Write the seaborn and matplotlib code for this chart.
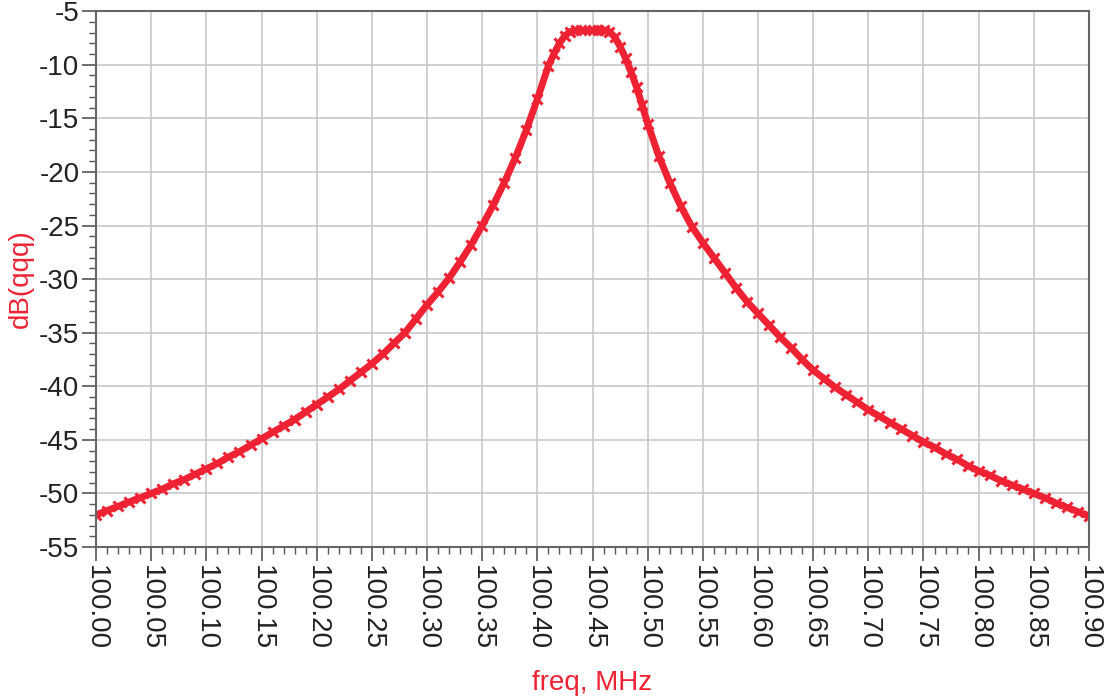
import numpy as np
import pandas as pd
import matplotlib
matplotlib.use("Agg")
import matplotlib.pyplot as plt
from matplotlib.ticker import MultipleLocator, FormatStrFormatter
import seaborn as sns

# frequency points (MHz) and response (dB)
freq = [100.00, 100.01, 100.02, 100.03, 100.04, 100.05, 100.06, 100.07, 100.08, 100.09,
        100.10, 100.11, 100.12, 100.13, 100.14, 100.15, 100.16, 100.17, 100.18, 100.19,
        100.20, 100.21, 100.22, 100.23, 100.24, 100.25, 100.26, 100.27, 100.28, 100.29,
        100.30, 100.31, 100.32, 100.33, 100.34, 100.35, 100.36, 100.37, 100.38, 100.39,
        100.40, 100.41, 100.415, 100.42, 100.425, 100.43, 100.435, 100.44, 100.45, 100.455,
        100.46, 100.465, 100.47, 100.475, 100.48, 100.485, 100.49, 100.495, 100.50, 100.51,
        100.52, 100.53, 100.54, 100.55, 100.56, 100.57, 100.58, 100.59, 100.60, 100.61,
        100.62, 100.63, 100.64, 100.65, 100.66, 100.67, 100.68, 100.69, 100.70, 100.71,
        100.72, 100.73, 100.74, 100.75, 100.76, 100.77, 100.78, 100.79, 100.80, 100.81,
        100.82, 100.83, 100.84, 100.85, 100.86, 100.87, 100.88, 100.89, 100.90]
db = [-52.0, -51.6, -51.2, -50.8, -50.4, -50.0, -49.6, -49.1, -48.7, -48.2,
      -47.7, -47.2, -46.6, -46.1, -45.5, -44.9, -44.3, -43.7, -43.1, -42.4,
      -41.7, -41.0, -40.3, -39.5, -38.7, -37.9, -37.0, -36.0, -35.0, -33.7,
      -32.4, -31.2, -29.9, -28.4, -26.8, -25.0, -23.1, -21.0, -18.7, -16.1,
      -13.2, -10.1, -9.0, -8.0, -7.3, -6.9, -6.8, -6.8, -6.8, -6.8,
      -6.8, -6.9, -7.4, -8.3, -9.4, -10.7, -12.1, -13.8, -15.5, -18.5,
      -21.0, -23.2, -25.1, -26.6, -28.0, -29.4, -30.8, -32.1, -33.2, -34.3,
      -35.4, -36.4, -37.5, -38.5, -39.3, -40.1, -40.8, -41.5, -42.2, -42.8,
      -43.4, -44.0, -44.6, -45.2, -45.7, -46.3, -46.8, -47.4, -47.9, -48.3,
      -48.8, -49.2, -49.6, -50.0, -50.4, -50.9, -51.3, -51.7, -52.1]

red = "#ee2233"
df = pd.DataFrame({"freq": freq, "dB": db})

sns.set_style("white")
plt.rcParams["font.family"] = ["Liberation Sans", "DejaVu Sans"]

fig = plt.figure(figsize=(11.04, 6.96), dpi=100)
ax = fig.add_axes([0.087, 0.214, 0.8994, 0.77])

sns.lineplot(data=df, x="freq", y="dB", ax=ax, color=red, linewidth=5,
             marker="x", markersize=7, markeredgewidth=2.2, markeredgecolor=red)

ax.set_xlim(100.00, 100.90)
ax.set_ylim(-55, -5)
ax.xaxis.set_major_locator(MultipleLocator(0.05))
ax.xaxis.set_minor_locator(MultipleLocator(0.01))
ax.yaxis.set_major_locator(MultipleLocator(5))
ax.yaxis.set_minor_locator(MultipleLocator(1))
ax.xaxis.set_major_formatter(FormatStrFormatter("%.2f"))
ax.yaxis.set_major_formatter(FormatStrFormatter("%d"))

ax.grid(True, which="major", color="#c8c8c8", linewidth=1.2)
for s in ax.spines.values():
    s.set_color("#666666")
    s.set_linewidth(1.5)

ax.tick_params(which="major", direction="out", length=10, width=1.2, color="#555555",
               labelsize=20, labelcolor="#222222", bottom=True, left=True)
ax.tick_params(which="minor", direction="out", length=5, width=1, color="#555555",
               bottom=True, left=True)
ax.tick_params(axis="x", which="major", pad=3)
ax.tick_params(axis="y", which="major", pad=2)
plt.setp(ax.get_xticklabels(), rotation=270, va="top", ha="center")

ax.set_xlabel("freq, MHz", color=red, fontsize=20, labelpad=14)
ax.set_ylabel("dB(qqq)", color=red, fontsize=20, labelpad=4)

fig.savefig("out.png", dpi=100)
